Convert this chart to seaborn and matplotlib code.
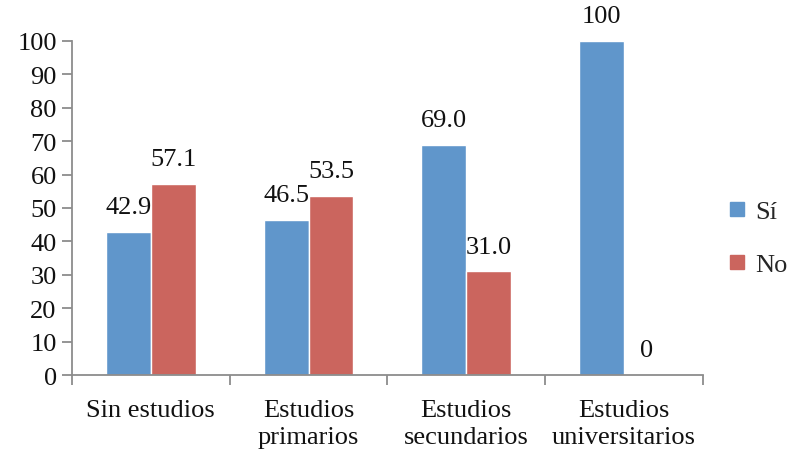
import matplotlib
matplotlib.use("Agg")
import matplotlib.pyplot as plt
import seaborn as sns
import pandas as pd

categories = ["Sin estudios", "Estudios\nprimarios", "Estudios\nsecundarios", "Estudios\nuniversitarios"]
series_names = ["Sí", "No"]
si_values = [42.9, 46.5, 69.0, 100]
no_values = [57.1, 53.5, 31.0, 0]
si_labels = ["42.9", "46.5", "69.0", "100"]
no_labels = ["57.1", "53.5", "31.0", "0"]
y_ticks = list(range(0, 101, 10))

colors = ["#6096CB", "#CB655E"]

df = pd.DataFrame({
    "categoria": categories * 2,
    "respuesta": [series_names[0]] * len(categories) + [series_names[1]] * len(categories),
    "valor": si_values + no_values,
})

sns.set_theme(style="white")
plt.rcParams["font.family"] = ["Liberation Serif", "DejaVu Serif"]

fig = plt.figure(figsize=(7.87, 4.56), dpi=100)
ax = fig.add_axes([0.0915, 0.1754, 0.8015, 0.7326])

sns.barplot(data=df, x="categoria", y="valor", hue="respuesta",
            palette=colors, width=0.57, saturation=1, ax=ax,
            order=categories, hue_order=series_names, legend=False)

for container, labels in zip(ax.containers, [si_labels, no_labels]):
    ax.bar_label(container, labels=labels, padding=10, fontsize=19, color="#111111")

ax.set_xlim(-0.5, len(categories) - 0.5)
ax.set_ylim(0, 100)
ax.set_yticks(y_ticks)
ax.set_yticklabels([str(t) for t in y_ticks], fontsize=19)
ax.set_xticks(range(len(categories)))
ax.set_xticklabels(categories, fontsize=19, linespacing=1.32)
ax.set_xticks([i - 0.5 for i in range(len(categories) + 1)], minor=True)
ax.tick_params(axis="x", which="major", length=0, pad=17, colors="#111111")
ax.tick_params(axis="x", which="minor", length=7, width=1.3, color="#8c8c8c", bottom=True)
ax.tick_params(axis="y", which="major", length=7, width=1.3, left=True, pad=4, colors="#111111")
ax.tick_params(axis="y", which="major", color="#8c8c8c")
ax.set_xlabel("")
ax.set_ylabel("")

for side in ["top", "right"]:
    ax.spines[side].set_visible(False)
for side in ["left", "bottom"]:
    ax.spines[side].set_color("#8c8c8c")
    ax.spines[side].set_linewidth(1.3)

handles = [plt.Line2D([], [], marker="s", linestyle="", markersize=10,
                      markerfacecolor=c, markeredgecolor=c) for c in colors]
fig.legend(handles, series_names, loc="center left", bbox_to_anchor=(0.889, 0.476),
           frameon=False, fontsize=19, handletextpad=0.2, labelspacing=1.1,
           handlelength=1.0)

fig.savefig("out.png", dpi=100)
